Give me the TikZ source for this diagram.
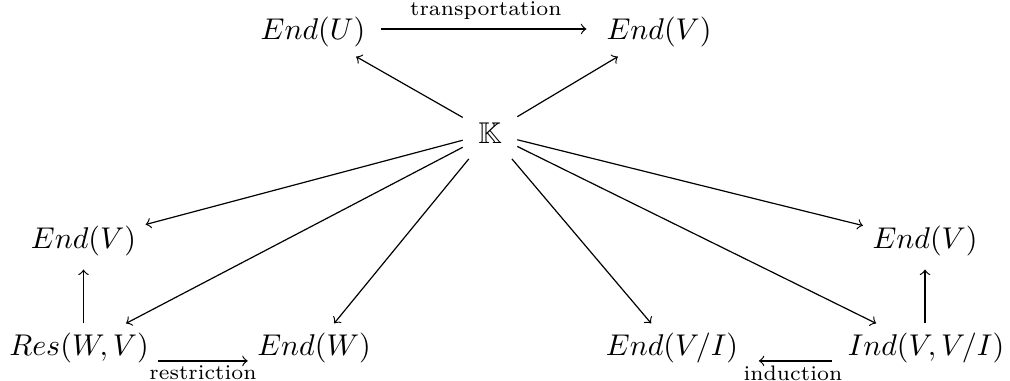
\documentclass[tikz,border=0pt]{standalone}
\usepackage{amssymb}
\begin{document}
\begin{tikzpicture}[x=0.3333pt,y=-0.3333pt,
  obj/.style={inner sep=3pt},
  arr/.style={->,>=to,line width=0.4pt},
  lab/.style={font=\scriptsize}]
\useasboundingbox (0,0) rectangle (1010,381);
\node[obj] (EndU) at (313,32) {$End(U)$};
\node[obj] (EndVT) at (659,32) {$End(V)$};
\node[inner sep=5pt] (K) at (490,133) {$\mathbb{K}$};
\node[obj] (EndVL) at (83.5,241) {$End(V)$};
\node[obj] (EndVR) at (925,241) {$End(V)$};
\node[obj] (Res) at (79,348) {$Res(W,V)$};
\node[obj] (EndW) at (314,348) {$End(W)$};
\node[obj] (EndVI) at (672,348) {$End(V/I)$};
\node[obj] (Ind) at (926,348) {$Ind(V,V/I)$};

\draw[arr,shorten <=2pt,shorten >=3.5pt] ([yshift=1pt]EndU.east) -- ([yshift=1pt]EndVT.west)
  node[midway,above,lab,inner sep=3pt] {transportation};
\draw[arr] (K) -- (EndU);
\draw[arr] (K) -- (EndVT);
\draw[arr] (K) -- (EndVL);
\draw[arr] (K) -- (Res);
\draw[arr] (K) -- (EndW);
\draw[arr] (K) -- (EndVI);
\draw[arr] (K) -- (Ind);
\draw[arr] (K) -- (EndVR);
\draw[arr,shorten >=1.3pt] (EndVL |- Res.north) -- (EndVL.south);
\draw[arr,shorten >=1.3pt] (EndVR |- Ind.north) -- (EndVR.south);
\draw[arr] ([yshift=-4.3pt]Res.east) -- ([yshift=-4.3pt]EndW.west)
  node[midway,below,lab,inner sep=1.5pt] {restriction};
\draw[arr,shorten <=2pt,shorten >=3.7pt] ([yshift=-4.3pt]Ind.west) -- ([yshift=-4.3pt]EndVI.east)
  node[midway,below,lab,inner sep=1.5pt] {induction};
\end{tikzpicture}
\end{document}
